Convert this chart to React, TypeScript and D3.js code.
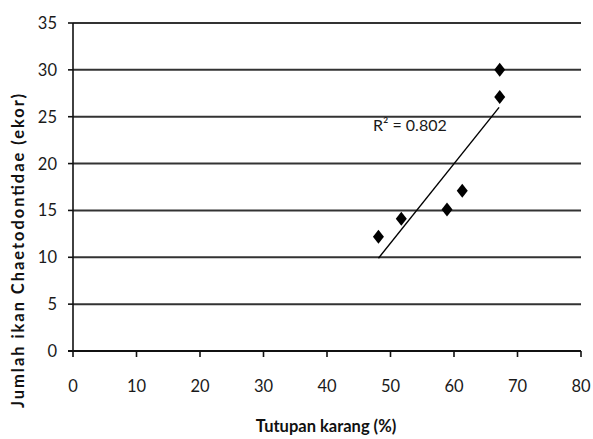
import React from "react";
import { scaleLinear, line, range } from "d3";

// coral cover (%) vs Chaetodontidae count
const coverPct = [48.1, 51.7, 58.9, 61.3, 67.2, 67.2];
const fishCount = [12.2, 14.1, 15.1, 17.1, 27.1, 30];
// trend line end points as drawn (x, y)
const trendX = [48.1, 67.1];
const trendY = [9.9, 26.0];
const xTicks = range(0, 81, 10);
const yTicks = range(0, 36, 5);
const r2Label = "R² = 0.802";

const W = 593;
const H = 439;
const margin = { top: 23, right: 12, bottom: 88, left: 73 };
const font = "Lato, 'Open Sans', sans-serif";

export default function App() {
  const x = scaleLinear().domain([0, 80]).range([margin.left, W - margin.right]);
  const y = scaleLinear().domain([0, 35]).range([H - margin.bottom, margin.top]);

  const trendPath = line<number>()
    .x((d) => x(trendX[d]))
    .y((d) => y(trendY[d]))([0, 1]);

  const diamond = (cx: number, cy: number) =>
    `M${cx},${cy - 7}L${cx + 5.5},${cy}L${cx},${cy + 7}L${cx - 5.5},${cy}Z`;

  return (
    <div style={{ position: "absolute", left: 0, top: 0 }}>
      <svg width={W} height={H} style={{ display: "block", background: "#fff" }}>
        {/* grid lines */}
        {yTicks
          .filter((t) => t > 0)
          .map((t) => (
            <line
              key={"g" + t}
              x1={x(0)}
              x2={x(80)}
              y1={y(t)}
              y2={y(t)}
              stroke="#333"
              strokeWidth={2}
            />
          ))}
        {/* y axis */}
        <line x1={x(0)} x2={x(0)} y1={y(35)} y2={y(0)} stroke="#111" strokeWidth={1.6} />
        {yTicks.map((t) => (
          <g key={"y" + t}>
            <line x1={x(0) - 5} x2={x(0)} y1={y(t)} y2={y(t)} stroke="#111" strokeWidth={1.6} />
            <text
              x={57}
              y={y(t)}
              dy="0.36em"
              textAnchor="end"
              fontFamily={font}
              fontSize={16.5}
              fill="#1a1a1a"
            >
              {t}
            </text>
          </g>
        ))}
        {/* x axis */}
        <line x1={x(0) - 5} x2={x(80)} y1={y(0)} y2={y(0)} stroke="#111" strokeWidth={1.8} />
        {xTicks.map((t) => (
          <g key={"x" + t}>
            <line x1={x(t)} x2={x(t)} y1={y(0)} y2={y(0) + 6} stroke="#111" strokeWidth={1.6} />
            <text
              x={x(t)}
              y={391.5}
              textAnchor="middle"
              fontFamily={font}
              fontSize={16.5}
              fill="#1a1a1a"
            >
              {t}
            </text>
          </g>
        ))}
        {/* trend line */}
        <path d={trendPath || ""} fill="none" stroke="#000" strokeWidth={1.4} />
        {/* points */}
        {coverPct.map((c, i) => (
          <path key={"p" + i} d={diamond(x(c), y(fishCount[i]))} fill="#000" />
        ))}
        <text x={373} y={131} fontFamily={font} fontSize={16} fill="#1a1a1a">
          {r2Label}
        </text>
        {/* titles */}
        <text
          x={326}
          y={432}
          textAnchor="middle"
          fontFamily={font}
          fontSize={16.5}
          fontWeight="bold"
          fill="#111"
        >
          Tutupan karang (%)
        </text>
        <text
          transform="translate(24,251) rotate(-90)"
          textAnchor="middle"
          fontFamily={font}
          fontSize={16.5}
          fontWeight="bold"
          fill="#111"
          textLength={314}
          lengthAdjust="spacing"
        >
          Jumlah ikan Chaetodontidae (ekor)
        </text>
      </svg>
    </div>
  );
}
